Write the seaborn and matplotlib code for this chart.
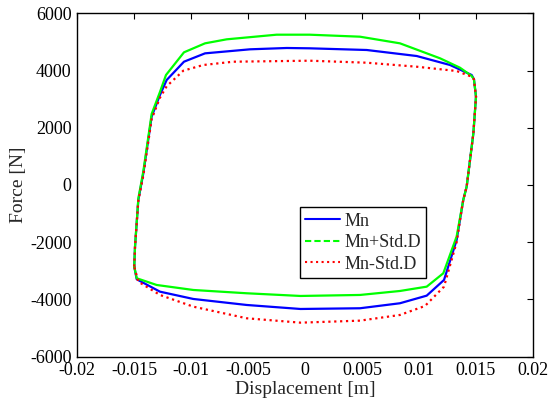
import numpy as np
import pandas as pd
import matplotlib
matplotlib.use("Agg")
import matplotlib.pyplot as plt
from matplotlib.lines import Line2D
import seaborn as sns

# --- data ---
mn_x = [-0.0150, -0.01493, -0.01464, -0.0142, -0.01347, -0.01274, -0.01215, -0.01063, -0.00878,
        -0.00483, -0.0016, 0.0004, 0.00542, 0.00981, 0.01274, 0.01464, 0.01484, 0.01502, 0.01479,
        0.0142, 0.0139, 0.01332, 0.01221, 0.01069, 0.00834, 0.00483, -0.0004, -0.00512, -0.00981,
        -0.01274, -0.01478, -0.0150]
mn_y = [-2850, -2155, -524, 408, 2387, 3145, 3669, 4308, 4600,
        4741, 4787, 4776, 4717, 4507, 4193, 3843, 3693, 3086, 1806,
        -59, -524, -1922, -3319, -3867, -4133, -4308, -4333, -4193, -3983,
        -3728, -3295, -2850]

up_x = [-0.0150, -0.01493, -0.01464, -0.0142, -0.01347, -0.01274, -0.01221, -0.01063, -0.00878,
        -0.00688, -0.00249, 0.0004, 0.00483, 0.00834, 0.01186, 0.01361, 0.01464, 0.01484, 0.01502,
        0.01479, 0.0142, 0.0139, 0.01332, 0.01215, 0.01069, 0.00834, 0.00483, -0.0004, -0.00512,
        -0.00981, -0.01303, -0.01478, -0.0150]
up_y = [-2850, -2155, -480, 480, 2480, 3250, 3843, 4636, 4950,
        5090, 5252, 5252, 5182, 4950, 4427, 4099, 3808, 3693, 3086,
        1806, -59, -524, -1800, -3085, -3553, -3704, -3843, -3878, -3784,
        -3669, -3494, -3260, -2850]

lo_x = [-0.0150, -0.01493, -0.01464, -0.0142, -0.01347, -0.01274, -0.01215, -0.01069, -0.00893,
        -0.0063, 0.0004, 0.00542, 0.00981, 0.01332, 0.01464, 0.01484, 0.01502, 0.01479,
        0.0142, 0.0139, 0.01332, 0.01221, 0.01054, 0.00834, 0.00483, -0.0004, -0.00512,
        -0.00981, -0.01274, -0.01464, -0.0150]
lo_y = [-2850, -2155, -560, 330, 2300, 3050, 3450, 3994, 4193,
        4308, 4343, 4273, 4133, 3983, 3784, 3693, 3086, 1806,
        -59, -524, -2000, -3553, -4228, -4542, -4741, -4811, -4658,
        -4252, -3843, -3378, -2850]

labels = ["Mn", "Mn+Std.D", "Mn-Std.D"]
xticks = [-0.02, -0.015, -0.01, -0.005, 0, 0.005, 0.01, 0.015, 0.02]
xtick_labels = ["-0.02", "-0.015", "-0.01", "-0.005", "0", "0.005", "0.01", "0.015", "0.02"]
yticks = [-6000, -4000, -2000, 0, 2000, 4000, 6000]
ytick_labels = ["-6000", "-4000", "-2000", "0", "2000", "4000", "6000"]

sns.set_style("white")
plt.rcParams["font.family"] = ["Liberation Serif", "DejaVu Serif"]
plt.rcParams["mathtext.fontset"] = "stix"

fig = plt.figure(figsize=(5.49, 4.05), dpi=100)
ax = fig.add_axes([0.1408, 0.1193, 0.8295, 0.8479])

series = [
    (mn_x, mn_y, labels[0], "#0000ff", "-"),
    (up_x, up_y, labels[1], "#00ff00", "-"),
    (lo_x, lo_y, labels[2], "#ff0000", ":"),
]
for xs, ys, lab, col, ls in series:
    df = pd.DataFrame({"x": xs, "y": ys, "order": np.arange(len(xs))})
    sns.lineplot(data=df, x="x", y="y", sort=False, estimator=None, ax=ax,
                 color=col, linestyle=ls, linewidth=1.6, legend=False)

ax.set_xlim(-0.02, 0.02)
ax.set_ylim(-6000, 6000)
ax.set_xticks(xticks)
ax.set_xticklabels(xtick_labels)
ax.set_yticks(yticks)
ax.set_yticklabels(ytick_labels)
ax.tick_params(direction="in", length=4, width=0.8, top=True, right=True,
               labelsize=13, colors="black", pad=4)
for sp in ax.spines.values():
    sp.set_visible(True)
    sp.set_color("black")
    sp.set_linewidth(1.0)
ax.set_xlabel("Displacement [m]", fontsize=14, labelpad=1)
ax.set_ylabel("Force [N]", fontsize=14, labelpad=2)
ax.grid(False)

handles = [
    Line2D([], [], color="#0000ff", linestyle="-", linewidth=1.5),
    Line2D([], [], color="#00ff00", linestyle=(0, (3, 1.5)), linewidth=1.5),
    Line2D([], [], color="#ff0000", linestyle=":", linewidth=1.5),
]
leg = ax.legend(handles, labels, loc="lower left", bbox_to_anchor=(0.489, 0.229),
                borderaxespad=0, fontsize=13, handlelength=1.9, handletextpad=0.25,
                labelspacing=0.25, borderpad=0.3, fancybox=False, framealpha=1,
                edgecolor="black")
leg.get_frame().set_linewidth(1.0)

fig.savefig("out.png", dpi=100)
